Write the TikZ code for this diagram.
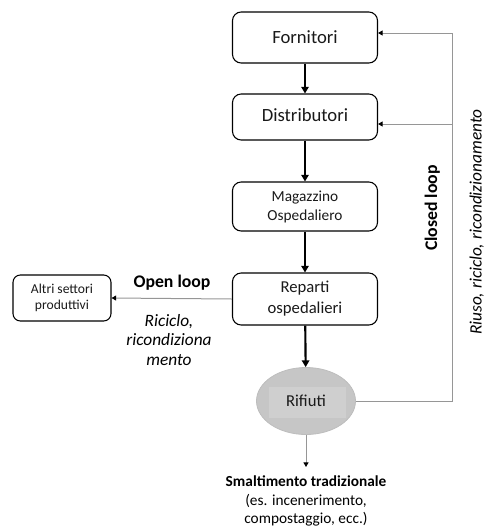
\documentclass[tikz,border=0pt]{standalone}
\usepackage{fontspec}
\setmainfont{Carlito}
\usetikzlibrary{arrows.meta,shapes.geometric}

\definecolor{rifbody}{RGB}{198,198,198}
\definecolor{rifhi}{RGB}{207,207,207}
\definecolor{loopline}{RGB}{150,150,150}
\definecolor{boxtext}{RGB}{25,25,25}

\newcommand{\fs}[2]{\fontsize{#1}{#2}\selectfont}

\begin{document}
\begin{tikzpicture}[x=0.75pt,y=-0.75pt,
  box/.style={draw=black, line width=0.8pt, rounded corners=6.5pt, align=center,
    inner sep=0pt, minimum width=108.75pt, text=boxtext},
  flow/.style={line width=1.6pt, -{Triangle[length=5pt,width=5.5pt]}},
  thinarrow/.style={draw=loopline, line width=0.75pt,
    -{Triangle[length=3.5pt,width=3.8pt,color=black]}},
  label/.style={inner sep=0pt, align=center, text=black}]
\useasboundingbox (0,0) rectangle (485,526);

% supply chain boxes
\node[box, minimum height=38.25pt, font=\fs{14}{17}] (forn) at (305,37.5) {Fornitori};
\node[box, minimum height=34.5pt, font=\fs{14}{17}] (distr) at (305,117) {\raisebox{3.5pt}{Distributori}};
\node[box, minimum height=36.75pt, font=\fs{11.5}{14.25}] (mag) at (305,206.5) {Magazzino\\Ospedaliero};
\node[box, minimum height=39pt, font=\fs{12.5}{15.75}] (rep) at (305,299) {Reparti\\ospedalieri};

% waste
\node[ellipse, draw=black!26, line width=0.6pt, fill=rifbody, inner sep=0pt,
  minimum width=74.25pt, minimum height=50.25pt, font=\fs{12.5}{15}, text=boxtext,
  path picture={\fill[rifhi]
    ([xshift=-27.75pt,yshift=10.5pt]path picture bounding box.center) rectangle
    ([xshift=30pt,yshift=-12.75pt]path picture bounding box.center);}]
  (rif) at (306,401) {Rifiuti};

% other sectors
\node[box, minimum width=73.5pt, minimum height=34.5pt, rounded corners=5.5pt,
  font=\fs{10.2}{12}] (altri) at (62,298) {Altri settori\\produttivi};

% main flow
\draw[flow] (forn) -- (distr);
\draw[flow] (distr) -- (mag);
\draw[flow] (mag) -- (rep);
\draw[flow] (rep) -- (rif);

% open loop
\draw[thinarrow] (rep.west) -- (altri.east);
\node[label, font=\bfseries\fs{13.3}{16}] (openlbl) at (172,283) {Open loop};
\node[label, font=\itshape\fs{13}{14.6}] (openrec) at (169,340) {Riciclo,\\ricondiziona\\mento};

% closed loop back to the top of the chain
\coordinate (loopTop) at (452.5,33);
\coordinate (loopMid) at (452.5,124);
\draw[thinarrow] (rif.east) -| (loopTop) -- (forn.east |- loopTop);
\draw[thinarrow] (loopMid) -- (distr.east |- loopMid);
\node[label, rotate=90, anchor=base, font=\bfseries\fs{13.3}{16}] (closedlbl) at (437,208) {Closed loop};
\node[label, rotate=90, anchor=base, font=\itshape\fs{13}{16}] (closedrec) at (481.5,222) {Riuso, riciclo, ricondizionamento};

% traditional disposal
\node[label, anchor=north, inner ysep=6.5pt, font=\fs{11.5}{13.9}] (smalt) at (306,467)
  {\textbf{Smaltimento tradizionale}\\(es. incenerimento,\\compostaggio, ecc.)};
\draw[thinarrow] (rif.south) -- (smalt.north);
\end{tikzpicture}
\end{document}
